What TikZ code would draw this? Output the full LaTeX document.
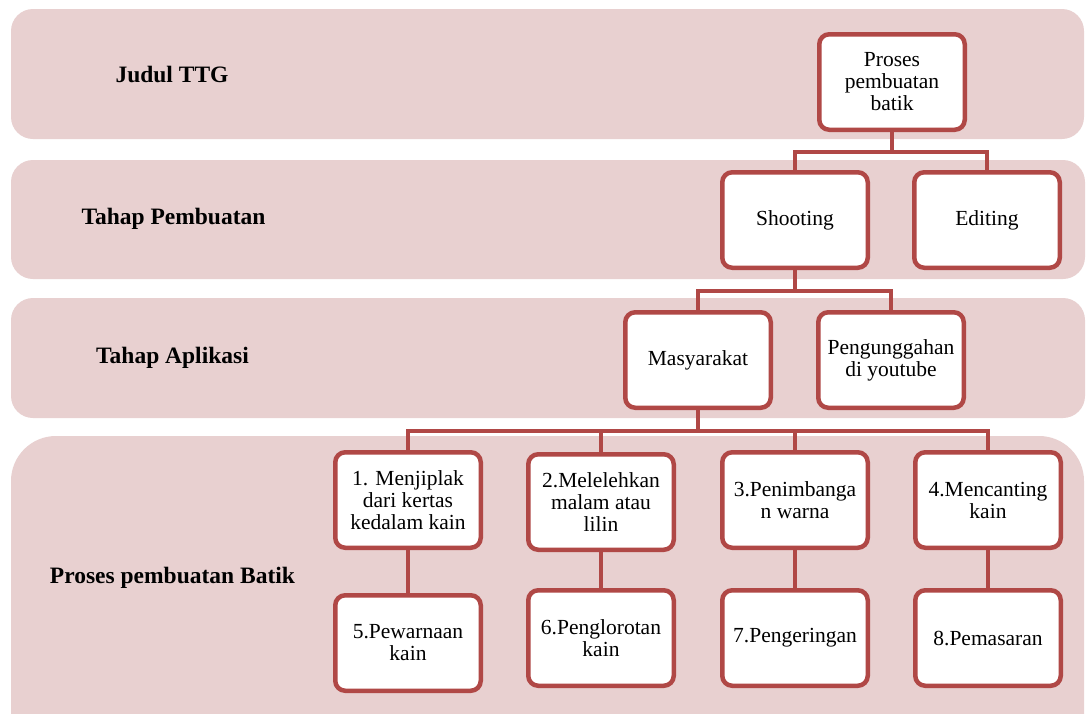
\documentclass[tikz,border=0pt]{standalone}
\usepackage{fontspec}
\setmainfont{Liberation Serif}
\definecolor{bandfill}{RGB}{232,208,208}
\definecolor{boxline}{RGB}{176,72,70}
\begin{document}
\begin{tikzpicture}[x=1pt,y=-1pt,
  band/.style={fill=bandfill,draw=none,rounded corners=22pt},
  boxnode/.style={draw=boxline,fill=white,line width=4.5pt,rounded corners=10pt,
    minimum width=145.5pt,minimum height=95.5pt,inner sep=2pt,align=center,
    font=\fontsize{21.5}{22}\selectfont},
  lbl/.style={font=\fontsize{23.5}{26}\selectfont\bfseries},
  conn/.style={draw=boxline,line width=4.5pt}]
\useasboundingbox (0,0) rectangle (1088,713);
\fill[white] (0,0) rectangle (1088,713);
% bands
\fill[band] (11,9) rectangle (1084,139);
\fill[band] (11,160) rectangle (1085,279);
\fill[band] (11,298) rectangle (1085,418);
\begin{scope}
\clip (0,0) rectangle (1088,713);
\fill[bandfill,rounded corners=45pt] (11,436) rectangle (1084,760);
\end{scope}
% labels
\node[lbl] (l1) at (172,74) {Judul TTG};
\node[lbl] (l2) at (173.5,219) {Tahap Pembuatan};
\node[lbl] (l3) at (172.5,358) {Tahap Aplikasi};
\node[lbl] (l4) at (172.5,578) {Proses pembuatan Batik};
% boxes
\node[boxnode] (p) at (892,82) {Proses\\pembuatan\\batik};
\node[boxnode] (s) at (795,220) {Shooting};
\node[boxnode] (e) at (987,220) {Editing};
\node[boxnode] (m) at (698,360) {Masyarakat};
\node[boxnode] (u) at (891,360) {Pengunggahan\\di youtube};
\node[boxnode] (b1) at (408,500) {1. Menjiplak\\dari kertas\\kedalam kain};
\node[boxnode] (b2) at (601,502) {2.Melelehkan\\malam atau\\lilin};
\node[boxnode] (b3) at (795,500) {3.Penimbanga\\n warna};
\node[boxnode] (b4) at (988,500) {4.Mencanting\\kain};
\node[boxnode] (b5) at (408,643) {5.Pewarnaan\\kain};
\node[boxnode] (b6) at (601,638) {6.Penglorotan\\kain};
\node[boxnode] (b7) at (795,638) {7.Pengeringan};
\node[boxnode] (b8) at (988,638) {8.Pemasaran};
% connectors
\draw[conn] (p.south) -- ++(0,20) -| (s.north);
\draw[conn] (p.south) -- ++(0,20) -| (e.north);
\draw[conn] (s.south) -- ++(0,21) -| (m.north);
\draw[conn] (s.south) -- ++(0,21) -| (u.north);
\draw[conn] (m.south) -- ++(0,21) -| (b1.north);
\draw[conn] (m.south) -- ++(0,21) -| (b2.north);
\draw[conn] (m.south) -- ++(0,21) -| (b3.north);
\draw[conn] (m.south) -- ++(0,21) -| (b4.north);
\draw[conn] (b1.south) -- (b5.north);
\draw[conn] (b2.south) -- (b6.north);
\draw[conn] (b3.south) -- (b7.north);
\draw[conn] (b4.south) -- (b8.north);
\end{tikzpicture}
\end{document}
